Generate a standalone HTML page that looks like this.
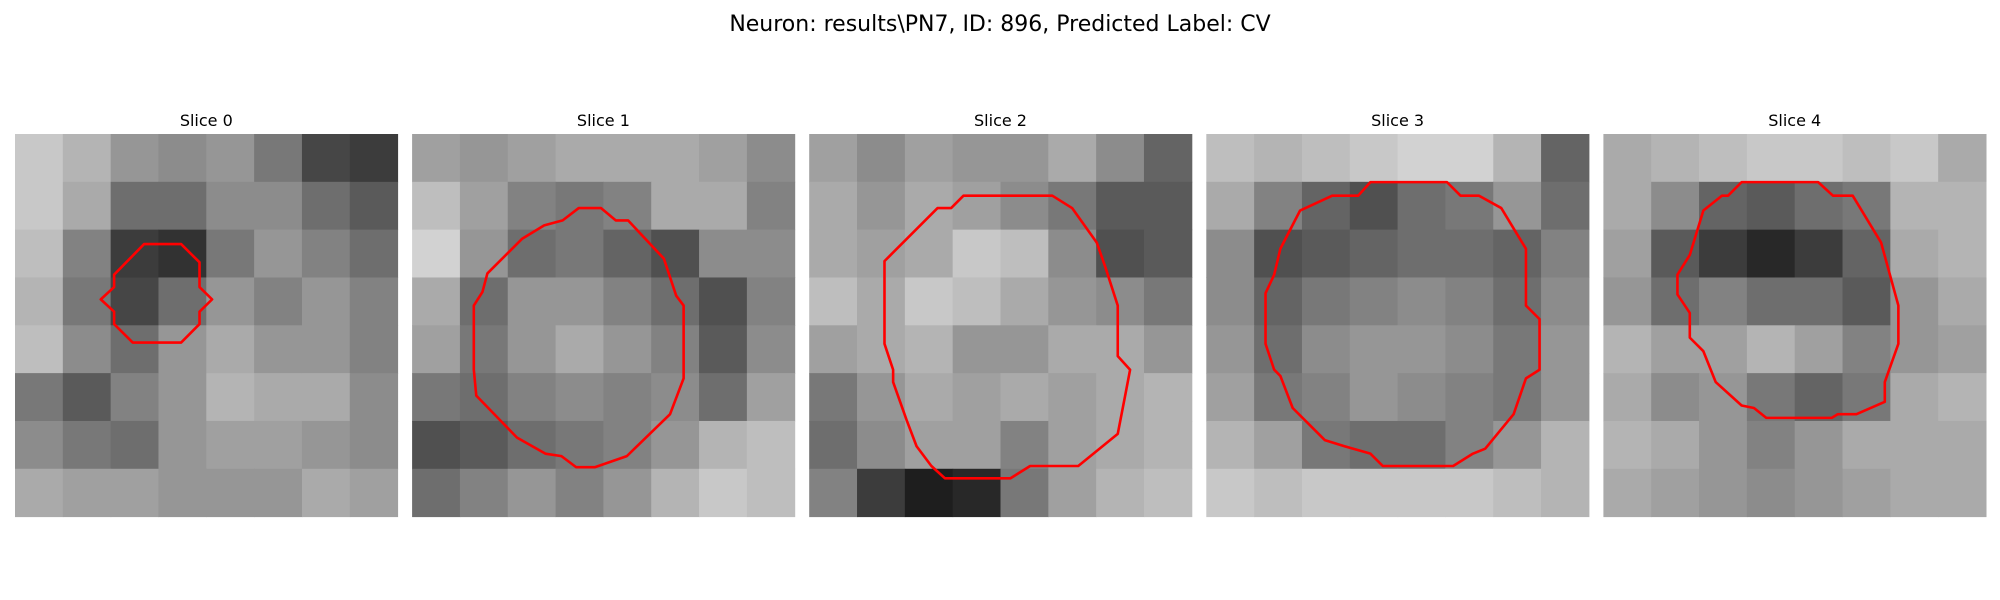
<!DOCTYPE html>
<html><head><meta charset="utf-8"><style>
html,body{margin:0;padding:0;background:#fff;width:2000px;height:600px;overflow:hidden}
svg{display:block}
text{font-family:"DejaVu Sans","Liberation Sans",sans-serif;fill:#000}
</style></head><body>
<svg id="fig" width="2000" height="600" viewBox="0 0 2000 600">
<text x="1000" y="31" font-size="22" text-anchor="middle">Neuron: results\PN7, ID: 896, Predicted Label: CV</text>
</svg>
<script>
const sliceLabels = ["Slice 0","Slice 1","Slice 2","Slice 3","Slice 4"];
const gridSize = 31;
const intensity0 = [
[200,180,150,140,150,120,70,60],[200,170,110,110,140,140,110,90],[190,130,60,50,120,150,130,110],[180,120,70,110,150,130,150,130],
[190,140,110,150,170,150,150,130],[120,90,130,150,180,170,170,140],[140,120,110,150,160,160,150,140],[170,160,160,150,150,150,170,160]];
const intensity1 = [
[160,150,160,170,170,170,160,140],[190,160,130,120,130,170,170,130],[210,150,110,120,100,80,140,140],[170,110,150,150,130,110,80,130],
[160,120,150,170,150,130,90,140],[120,110,130,140,130,140,110,160],[80,90,110,120,130,150,180,190],[110,130,150,130,150,180,200,190]];
const intensity2 = [
[160,140,160,150,150,170,140,100],[170,150,170,160,140,120,90,90],[170,160,170,200,190,140,80,90],[190,170,200,190,170,150,140,120],
[160,170,180,150,150,170,170,150],[120,150,170,160,170,160,170,180],[110,140,160,160,130,160,170,180],[130,60,30,40,120,160,180,190]];
const intensity3 = [
[190,180,190,200,210,210,180,100],[170,130,100,80,110,120,150,110],[140,80,90,100,110,110,100,130],[140,100,120,130,140,130,110,140],
[150,110,140,150,150,140,120,150],[160,120,130,150,140,130,120,150],[180,160,120,110,110,130,150,180],[200,190,200,200,200,200,190,180]];
const intensity4 = [
[170,180,190,200,200,190,200,170],[170,140,100,90,110,120,180,180],[160,90,60,40,60,100,170,180],[150,110,130,110,110,90,150,170],
[180,160,160,180,160,130,150,160],[170,140,150,120,100,120,170,180],[180,170,150,130,150,170,170,170],[170,160,150,140,150,160,170,170]];
const contour0 = [[10.46,8.92],[13.46,8.92],[14.95,10.4],[14.95,12.4],[15.97,13.4],[14.95,14.4],[14.95,15.4],[13.46,16.9],[9.54,16.9],[8.03,15.4],[8.03,14.4],[6.95,13.4],[8.03,12.4],[8.03,11.4]];
const contour1 = [[13.5,6.0],[15.3,6.0],[16.5,7.0],[17.5,7.0],[20.4,10.1],[21.4,13.1],[22.0,13.9],[22.0,19.8],[20.9,22.7],[17.4,26.1],[14.8,27.0],[13.3,27.0],[12.1,26.1],[10.8,25.9],[8.5,24.6],[5.2,21.2],[5.0,19.1],[5.0,13.9],[5.7,12.8],[6.1,11.3],[8.9,8.5],[10.7,7.4],[12.2,7.0]];
const contour2 = [[12.5,5.0],[19.7,5.0],[21.3,6.0],[23.3,8.8],[24.0,10.8],[25.0,13.9],[25.0,18.0],[26.0,19.1],[25.6,21.2],[25.0,24.3],[21.8,26.9],[20.8,26.9],[17.9,26.9],[16.3,27.9],[11.0,27.9],[9.9,26.9],[8.7,25.3],[7.9,23.2],[6.8,20.1],[6.8,19.1],[6.1,17.0],[6.1,10.3],[10.4,6.0],[11.5,6.0]];
const contour3 = [[13.3,3.9],[19.5,3.9],[20.6,5.0],[22.1,5.0],[23.9,6.0],[25.9,9.3],[25.9,13.9],[27.0,15.0],[27.0,19.1],[25.9,19.8],[24.9,22.7],[22.6,25.5],[21.6,25.9],[20.0,26.9],[14.3,26.9],[13.3,25.9],[11.2,25.3],[9.6,24.8],[7.0,22.2],[6.0,19.6],[5.5,19.1],[4.8,17.0],[4.8,12.9],[5.5,11.4],[6.0,9.3],[7.6,6.2],[10.2,5.0],[12.3,5.0]];
const contour4 = [[11.2,3.9],[17.4,3.9],[18.6,5.0],[20.2,5.0],[22.5,8.8],[23.9,13.9],[23.9,17.0],[22.8,20.1],[22.8,21.7],[20.5,22.7],[19.0,22.7],[18.5,23.0],[13.2,23.0],[12.2,22.2],[11.2,22.0],[9.1,20.1],[8.1,17.6],[7.0,16.5],[7.0,14.5],[6.0,13.0],[6.0,11.4],[7.0,9.8],[8.1,6.2],[9.6,5.0],[10.1,5.0]];

const intensities = [intensity0,intensity1,intensity2,intensity3,intensity4];
const contours = [contour0,contour1,contour2,contour3,contour4];
const NS = "http://www.w3.org/2000/svg";
const svg = document.getElementById("fig");
const panelW = 382.6, panelTop = 134, panelStep = 397.1, panelLeft = 15;
function xScale(i, v){ return panelLeft + i*panelStep + v/gridSize*panelW; }
function yScale(v){ return panelTop + v/gridSize*panelW; }

sliceLabels.forEach((lab, i) => {
  const g = document.createElementNS(NS,"g");
  
  
  svg.appendChild(g);
  const t = document.createElementNS(NS,"text");
  
  
  t.setAttribute("x", xScale(i, gridSize/2));
  t.setAttribute("y", 126);
  t.setAttribute("font-size", "16");
  t.setAttribute("text-anchor", "middle");
  t.textContent = lab;
  g.appendChild(t);
  const grid = intensities[i];
  const n = grid.length;
  grid.forEach((row, r) => {
    row.forEach((v, c) => {
      const rect = document.createElementNS(NS,"rect");
      
      
      const x0 = xScale(i, c*gridSize/n), x1 = xScale(i, (c+1)*gridSize/n);
      const y0 = yScale(r*gridSize/n), y1 = yScale((r+1)*gridSize/n);
      rect.setAttribute("x", x0);
      rect.setAttribute("y", y0);
      rect.setAttribute("width", x1-x0+0.5);
      rect.setAttribute("height", y1-y0+0.5);
      rect.setAttribute("fill", `rgb(${v},${v},${v})`);
      g.appendChild(rect);
    });
  });
  const poly = document.createElementNS(NS,"polygon");
  
  
  poly.setAttribute("points", contours[i].map(p => xScale(i,p[0]) + "," + yScale(p[1])).join(" "));
  poly.setAttribute("fill", "none");
  poly.setAttribute("stroke", "#ff0000");
  poly.setAttribute("stroke-width", "2.6");
  poly.setAttribute("stroke-linejoin", "round");
  g.appendChild(poly);
});
</script>
</body></html>
